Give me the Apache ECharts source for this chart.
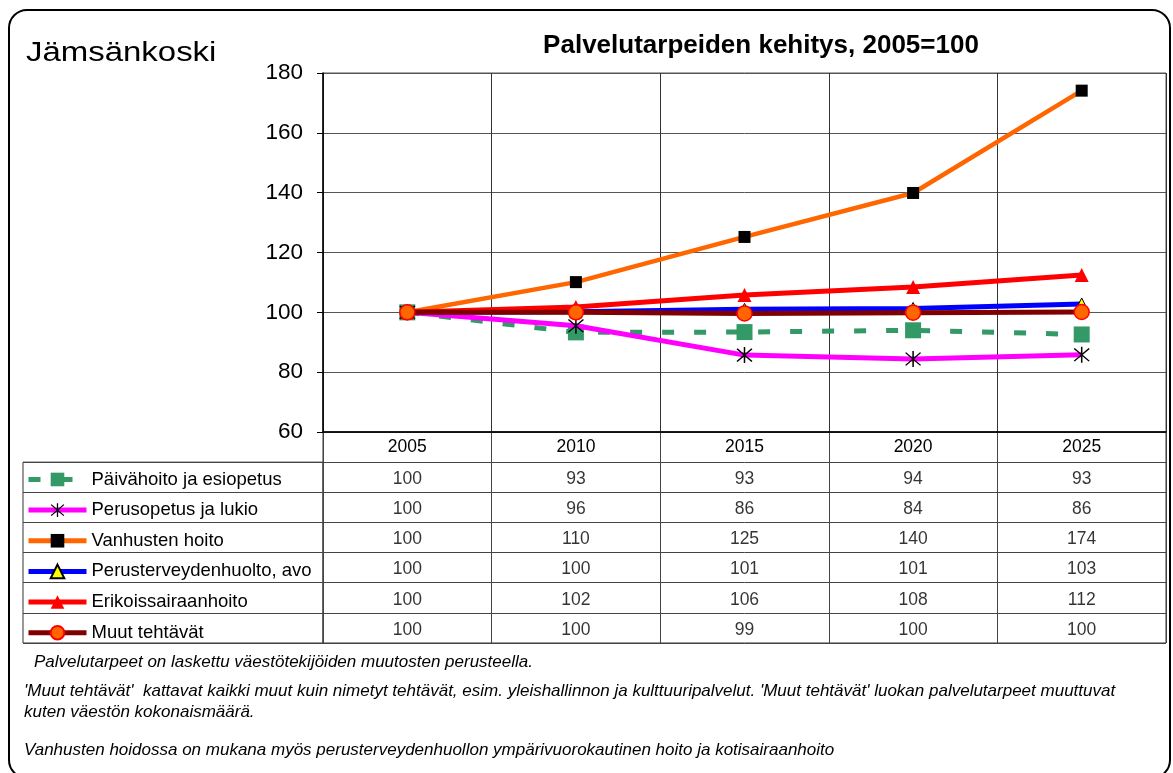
<!DOCTYPE html>
<html>
<head>
<meta charset="utf-8">
<script src="https://cdn.jsdelivr.net/npm/echarts@6/dist/echarts.min.js"></script>
<style>html,body{margin:0;padding:0;background:#fff}#c{width:1173px;height:773px}</style>
</head>
<body>
<div id="c"></div>
<script>
const years = ['2005', '2010', '2015', '2020', '2025'];
const seriesNames = ['Päivähoito ja esiopetus', 'Perusopetus ja lukio', 'Vanhusten hoito', 'Perusterveydenhuolto, avo', 'Erikoissairaanhoito', 'Muut tehtävät'];
const paivahoito = [100, 93.3, 93.4, 94.0, 92.6];
const perusopetus = [100, 95.5, 85.7, 84.4, 85.8];
const vanhusten = [100, 110.1, 125.2, 139.9, 174.1];
const perusterveys = [100, 100.2, 101.0, 101.3, 102.8];
const erikois = [100, 101.8, 105.8, 108.5, 112.5];
const muut = [100, 100.0, 99.6, 99.9, 100.1];
// table values (as printed)
const tabPaivahoito = [100, 93, 93, 94, 93];
const tabPerusopetus = [100, 96, 86, 84, 86];
const tabVanhusten = [100, 110, 125, 140, 174];
const tabPerusterveys = [100, 100, 101, 101, 103];
const tabErikois = [100, 102, 106, 108, 112];
const tabMuut = [100, 100, 99, 100, 100];
const yTicks = { min: 60, max: 180, interval: 20 };
const titleText = 'Palvelutarpeiden kehitys, 2005=100';
const placeText = 'Jämsänkoski';
const note1 = 'Palvelutarpeet on laskettu väestötekijöiden muutosten perusteella.';
const note2 = "'Muut tehtävät'  kattavat kaikki muut kuin nimetyt tehtävät, esim. yleishallinnon ja kulttuuripalvelut. 'Muut tehtävät' luokan palvelutarpeet muuttuvat\nkuten väestön kokonaismäärä.";
const note3 = 'Vanhusten hoidossa on mukana myös perusterveydenhuollon ympärivuorokautinen hoito ja kotisairaanhoito';

const lineValues = [paivahoito, perusopetus, vanhusten, perusterveys, erikois, muut];
const tableValues = [tabPaivahoito, tabPerusopetus, tabVanhusten, tabPerusterveys, tabErikois, tabMuut];

const FONT = 'Liberation Sans, Arial, sans-serif';
const asterisk = 'path://M9.2,0H10.8V20H9.2Z M1.5,2.6L2.6,1.5L18.5,17.4L17.4,18.5Z M17.4,1.5L18.5,2.6L2.6,18.5L1.5,17.4Z';

const styles = [
  { symbol: 'rect', size: 16, item: { color: '#339966' }, line: { color: '#339966', width: 5, type: [12, 20] } },
  { symbol: asterisk, size: 16, item: { color: '#000' }, line: { color: '#FF00FF', width: 5 } },
  { symbol: 'rect', size: 12, item: { color: '#000' }, line: { color: '#FF6600', width: 4.5 } },
  { symbol: 'triangle', size: 12, item: { color: '#FFFF00', borderColor: '#000', borderWidth: 1 }, line: { color: '#0000FF', width: 5 } },
  { symbol: 'triangle', size: 14, item: { color: '#FF0000' }, line: { color: '#FF0000', width: 5 } },
  { symbol: 'circle', size: 15, item: { color: '#FF6600', borderColor: '#FF0000', borderWidth: 1.5 }, line: { color: '#800000', width: 5 } }
];

const plot = { left: 323, top: 73, width: 843, height: 359 };
const tableTop = plot.top + plot.height;
const tableH = 211;
const rowH = tableH / 7;
const legendFont = 18.5;

const series = seriesNames.map((n, i) => ({
  name: n, type: 'line', xAxisIndex: 0, yAxisIndex: 0,
  data: lineValues[i], symbol: styles[i].symbol, symbolSize: styles[i].size,
  itemStyle: styles[i].item, lineStyle: styles[i].line, silent: true, z: 3 + i
}));

const cells = [];
tableValues.forEach((row, r) => row.forEach((v, c) => cells.push([c, r + 1, v])));
series.push({
  name: 'table', type: 'scatter', xAxisIndex: 1, yAxisIndex: 1, data: cells,
  symbolSize: 1, itemStyle: { color: 'rgba(0,0,0,0)' }, silent: true,
  label: { show: true, position: 'inside', offset: [0, 2], formatter: p => String(p.value[2]), fontSize: 17.5, fontFamily: FONT, color: '#000' }
});

const chart = echarts.init(document.getElementById('c'), null, { renderer: 'canvas' });
chart.setOption({
  animation: false,
  backgroundColor: '#fff',
  grid: [
    { left: plot.left, top: plot.top, width: plot.width, height: plot.height, show: true, borderColor: '#555', borderWidth: 1 },
    { left: plot.left, top: tableTop, width: plot.width, height: tableH, show: true, borderColor: '#333', borderWidth: 1 },
    { left: 23, top: tableTop + rowH, width: plot.left - 23, height: rowH * 6, show: true, borderColor: '#333', borderWidth: 1 }
  ],
  xAxis: [
    { type: 'category', gridIndex: 0, data: years, boundaryGap: true,
      axisLine: { show: true, lineStyle: { color: '#000', width: 1.5 } }, axisTick: { show: false },
      axisLabel: { fontSize: 17.5, fontFamily: FONT, color: '#000', margin: 6 },
      splitLine: { show: true, lineStyle: { color: '#333', width: 1 } } },
    { type: 'category', gridIndex: 1, data: years, boundaryGap: true,
      axisLine: { show: false }, axisTick: { show: false }, axisLabel: { show: false },
      splitLine: { show: true, lineStyle: { color: '#444', width: 1 } } },
    { type: 'value', gridIndex: 2, show: false, min: 0, max: 1 }
  ],
  yAxis: [
    { type: 'value', gridIndex: 0, min: yTicks.min, max: yTicks.max, interval: yTicks.interval,
      axisLine: { show: true, lineStyle: { color: '#000', width: 1.5 } },
      axisTick: { show: true, length: 6, lineStyle: { color: '#000' } },
      axisLabel: { fontSize: 22.5, fontFamily: FONT, color: '#000', margin: 20 },
      splitLine: { show: true, lineStyle: { color: '#555', width: 1 } } },
    { type: 'category', gridIndex: 1, inverse: true, data: [''].concat(seriesNames), boundaryGap: true,
      axisLine: { show: false }, axisTick: { show: false }, axisLabel: { show: false },
      splitLine: { show: true, lineStyle: { color: '#444', width: 1 } } },
    { type: 'category', gridIndex: 2, inverse: true, data: seriesNames, boundaryGap: true,
      axisLine: { show: false }, axisTick: { show: false }, axisLabel: { show: false },
      splitLine: { show: true, lineStyle: { color: '#444', width: 1 } } }
  ],
  legend: {
    data: seriesNames, orient: 'vertical', left: 26, top: tableTop + rowH + rowH / 2 - legendFont / 2 + 2,
    padding: 0, itemWidth: 58, itemHeight: 17, itemGap: rowH - legendFont, selectedMode: false,
    lineStyle: { width: 5 },
    textStyle: { fontSize: legendFont, fontFamily: FONT, color: '#000' }
  },
  graphic: [
    { type: 'rect', shape: { x: 9, y: 10, width: 1161, height: 768, r: 18 }, style: { fill: 'none', stroke: '#000', lineWidth: 2 }, z: 100, silent: true },
    { type: 'text', x: 26, y: 54, scaleX: 1.22, style: { text: placeText, x: 0, y: 0, fontSize: 27, fontFamily: FONT, fill: '#000', textAlign: 'left', textVerticalAlign: 'middle' } },
    { type: 'text', x: 761, y: 46, style: { text: titleText, fontSize: 26, fontWeight: 'bold', fontFamily: FONT, fill: '#000', textAlign: 'center', textVerticalAlign: 'middle' } },
    { type: 'text', x: 34, y: 662, style: { text: note1, fontSize: 17, fontStyle: 'italic', fontFamily: FONT, fill: '#000', textAlign: 'left', textVerticalAlign: 'middle' } },
    { type: 'text', x: 24, y: 681, style: { text: note2, fontSize: 17, fontStyle: 'italic', fontFamily: FONT, fill: '#000', textAlign: 'left', textVerticalAlign: 'top', lineHeight: 21 } },
    { type: 'text', x: 24, y: 750, style: { text: note3, fontSize: 17, fontStyle: 'italic', fontFamily: FONT, fill: '#000', textAlign: 'left', textVerticalAlign: 'middle' } }
  ],
  series: series
});
</script>
</body>
</html>
